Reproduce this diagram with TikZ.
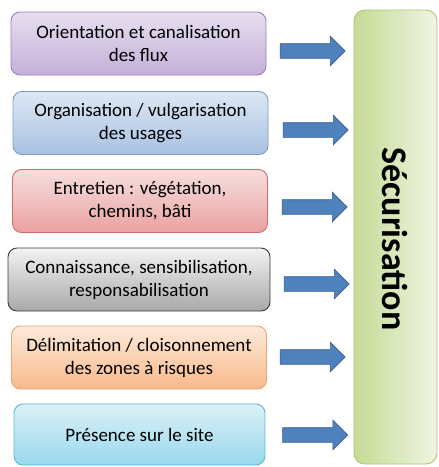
\documentclass[tikz,border=0pt]{standalone}
\usepackage{fontspec}
\setmainfont{Carlito}
\usepackage{xcolor}
\usepackage{tikz}
\usetikzlibrary{shapes.arrows}
\definecolor{purpleTop}{HTML}{E7DFF0}
\definecolor{purpleBot}{HTML}{C4B0D8}
\definecolor{purpleLine}{HTML}{9A80B8}
\definecolor{blueTop}{HTML}{DDE7F3}
\definecolor{blueBot}{HTML}{A8C2E2}
\definecolor{blueLine}{HTML}{7A9CC8}
\definecolor{redTop}{HTML}{F6DFDF}
\definecolor{redBot}{HTML}{EBA0A0}
\definecolor{redLine}{HTML}{D06A68}
\definecolor{grayTop}{HTML}{F3F3F3}
\definecolor{grayBot}{HTML}{A8A8A8}
\definecolor{grayLine}{HTML}{3A3A3A}
\definecolor{orangeTop}{HTML}{FDEADB}
\definecolor{orangeBot}{HTML}{F9B98A}
\definecolor{orangeLine}{HTML}{F4A070}
\definecolor{aquaTop}{HTML}{DDF1F8}
\definecolor{aquaBot}{HTML}{98D8EC}
\definecolor{aquaLine}{HTML}{5ABAD0}
\definecolor{greenDark}{HTML}{C5DB95}
\definecolor{greenLight}{HTML}{EFF5E3}
\definecolor{greenLine}{HTML}{A8C870}
\definecolor{arrowFill}{HTML}{4F81BD}
\definecolor{arrowLine}{HTML}{385D8A}

\begin{document}
\begin{tikzpicture}[x=1pt,y=1pt,align=center]
            \tikzset{
                measure/.style={
                    draw,
                    rounded corners=9pt,
                    line width=0.9pt,
                    minimum width=255pt,
                    minimum height=63pt,
                    inner sep=2pt,
                    font=\fontsize{19}{23}\selectfont,
                    align=center
                },
                flow/.style={
                    single arrow,
                    draw=arrowLine,
                    fill=arrowFill,
                    line width=0.6pt,
                    minimum height=65pt,
                    minimum width=29pt,
                    inner xsep=0pt,
                    inner ysep=7pt,
                    single arrow head extend=7.5pt,
                    single arrow head indent=0pt
                }
            }

            \useasboundingbox (0,0) rectangle (439,-467);

            % Measures
            \node[measure,draw=purpleLine,top color=purpleTop,bottom color=purpleBot] (M_Flux) at (138.5,-43.5) {Orientation et canalisation\\des flux};
            \node[measure,draw=blueLine,top color=blueTop,bottom color=blueBot] (M_Usages) at (140.5,-123) {Organisation / vulgarisation\\des usages};
            \node[measure,draw=redLine,top color=redTop,bottom color=redBot] (M_Entretien) at (140,-201) {Entretien : végétation,\\chemins, bâti};
            \node[measure,draw=grayLine,top color=grayTop,bottom color=grayBot,minimum width=262pt] (M_Connaissance) at (139,-279.5) {Connaissance, sensibilisation,\\responsabilisation};
            \node[measure,draw=orangeLine,top color=orangeTop,bottom color=orangeBot] (M_Zones) at (139,-357.5) {Délimitation / cloisonnement\\des zones à risques};
            \node[measure,draw=aquaLine,top color=aquaTop,bottom color=aquaBot,minimum width=251pt,minimum height=61pt] (M_Presence) at (139.5,-434.5) {Présence sur le site};

            % Arrows
            \node[flow] (F_Flux) at (309,-51) {};
            \node[flow] (F_Usages) at (312,-130) {};
            \node[flow] (F_Entretien) at (311,-207) {};
            \node[flow] (F_Connaissance) at (313,-284) {};
            \node[flow] (F_Zones) at (309,-357) {};
            \node[flow] (F_Presence) at (311.5,-435) {};

            % Securisation
            \node[
                draw=greenLine,
                line width=0.9pt,
                rounded corners=11pt,
                minimum width=83pt,
                minimum height=454pt,
                left color=greenDark,
                right color=greenLight
            ] (S_Box) at (395.5,-237) {};
            \node[rotate=-90,font=\fontsize{36}{40}\selectfont\bfseries] (S_Label) at (395.5,-239) {Sécurisation};
        \end{tikzpicture}
\end{document}
